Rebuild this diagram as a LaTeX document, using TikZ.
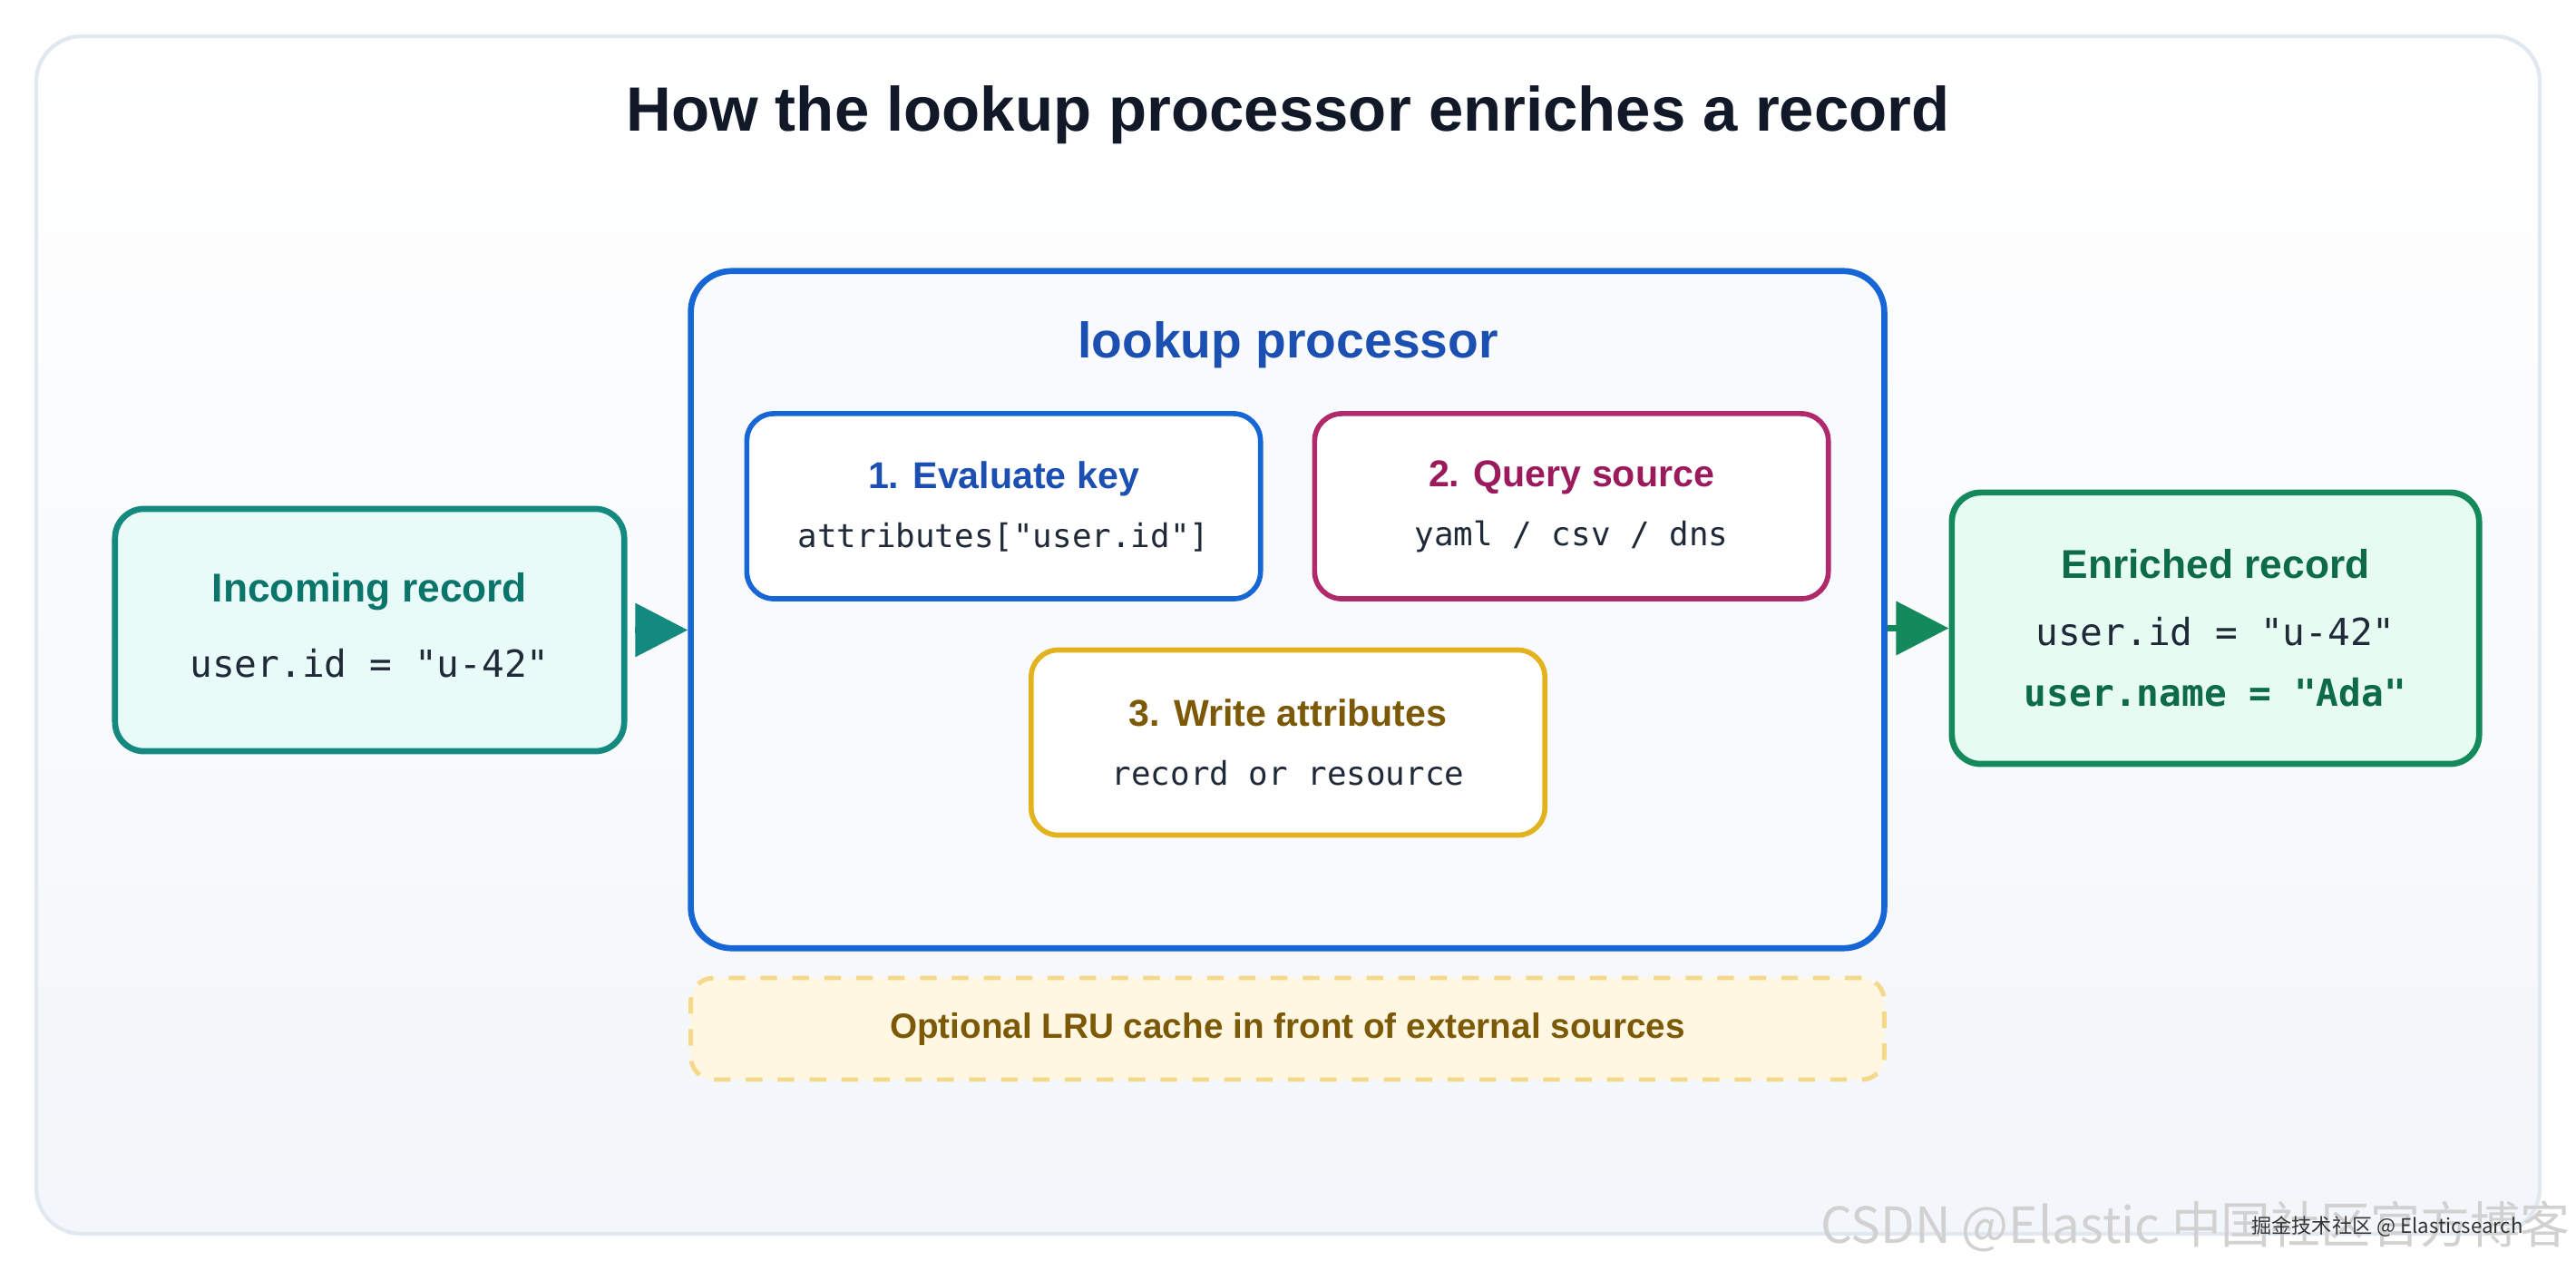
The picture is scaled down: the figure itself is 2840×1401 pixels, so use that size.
\documentclass[tikz,border=0pt]{standalone}
\usepackage{fontspec}
\setmainfont{Liberation Sans}
\setmonofont{DejaVu Sans Mono}
\newfontfamily\cjkfont{Noto Sans CJK SC}
\usetikzlibrary{arrows.meta,positioning}

\definecolor{ink}{HTML}{111827}
\definecolor{codeink}{HTML}{1F2937}
\definecolor{framestroke}{HTML}{E2E8F0}
\definecolor{framebot}{HTML}{F3F6FA}
\definecolor{procblue}{HTML}{1766D6}
\definecolor{proctext}{HTML}{1C4FB2}
\definecolor{procfill}{HTML}{F8FAFE}
\definecolor{querymag}{HTML}{B02A6B}
\definecolor{querytext}{HTML}{9A1A5B}
\definecolor{writegold}{HTML}{E3B21F}
\definecolor{writetext}{HTML}{7C5906}
\definecolor{cachefill}{HTML}{FFF7E1}
\definecolor{cachedash}{HTML}{F4D98A}
\definecolor{inteal}{HTML}{13897F}
\definecolor{infill}{HTML}{E9FBF9}
\definecolor{intext}{HTML}{0B756B}
\definecolor{outgreen}{HTML}{13895C}
\definecolor{outfill}{HTML}{E6FBF2}
\definecolor{outtext}{HTML}{0E6B48}

\newcommand{\stepcode}[1]{{\mdseries\ttfamily\fontsize{10.2}{18.5}\selectfont\color{codeink}#1}}
\newcommand{\reccode}[1]{{\mdseries\ttfamily\fontsize{11.7}{19}\selectfont\color{codeink}#1}}

\begin{document}
\begin{tikzpicture}[x=0.01cm,y=-0.01cm,
  stepbox/.style={draw, fill=white, rounded corners=0.3cm, line width=1.6pt,
    minimum width=5.66cm, minimum height=2.04cm, inner sep=0pt, align=center,
    font=\fontsize{11.7}{18.5}\selectfont\bfseries},
  recordbox/.style={draw, rounded corners=0.32cm, line width=1.9pt, inner sep=0pt,
    align=center, font=\fontsize{12.6}{19}\selectfont\bfseries},
  feed/.style={line width=2pt, -{Triangle[length=0.58cm,width=0.58cm]}}]
  \useasboundingbox (0,0) rectangle (2840,1401);
  \fill[white] (0,0) rectangle (2840,1401);
  % card
  \draw[framestroke, line width=1.2pt, rounded corners=0.5cm, top color=white,
    bottom color=framebot] (40,40) rectangle (2800,1360);
  \node[font=\fontsize{19.6}{22}\selectfont\bfseries, text=ink] (title) at (1420,127)
    {How the lookup processor enriches a record};

  % processor
  \node[draw=procblue, fill=procfill, line width=1.9pt, rounded corners=0.45cm,
    minimum width=13.15cm, minimum height=7.46cm] (proc) at (1419.5,672) {};
  \node[font=\fontsize{15.7}{18}\selectfont\bfseries, text=proctext] (proctitle) at (1420,380)
    {lookup processor};
  \node[stepbox, draw=procblue, text=proctext] (evalkey) at (1106.5,558)
    {1. Evaluate key\\\stepcode{attributes["user.id"]}};
  \node[stepbox, draw=querymag, text=querytext] (query) at (1732.5,558)
    {2. Query source\\\stepcode{yaml / csv / dns}};
  \node[stepbox, draw=writegold, text=writetext] (write) at (1420,818.5)
    {3. Write attributes\\\stepcode{record or resource}};
  \node[draw=cachedash, fill=cachefill, line width=1.4pt, dash pattern=on 5.2pt off 4.8pt,
    rounded corners=0.25cm, minimum width=13.15cm, minimum height=1.12cm,
    font=\fontsize{11}{13}\selectfont\bfseries, text=writetext] (cache) at (1419.5,1134)
    {Optional LRU cache in front of external sources};

  % records
  \node[recordbox, draw=inteal, fill=infill, text=intext, minimum width=5.61cm,
    minimum height=2.67cm] (incoming) at (407.5,694.5)
    {Incoming record\\[4.5pt]\reccode{user.id = "u-42"}\\[-16pt]\mbox{}};
  \node[recordbox, draw=outgreen, fill=outfill, text=outtext, minimum width=5.81cm,
    minimum height=2.99cm] (enriched) at (2442.5,692.5)
    {Enriched record\\[2pt]\reccode{user.id = "u-42"}\\{\ttfamily\fontsize{11.7}{19}\selectfont user.name = "Ada"}};

  \draw[feed, inteal, shorten <=0.08cm] (incoming.east) -- (incoming.east -| proc.west);
  \draw[feed, outgreen] (proc.east |- enriched.west) -- (enriched.west);

  % watermark
  \node[font=\cjkfont\fontsize{15.6}{18}\selectfont, text=black!18] (csdn) at (2420,1352)
    {CSDN @Elastic 中国社区官方博客};
  \node[font=\cjkfont\fontsize{6.3}{8}\selectfont, text=black!80] (juejin) at (2632,1352)
    {掘金技术社区 @ Elasticsearch};
\end{tikzpicture}
\end{document}
